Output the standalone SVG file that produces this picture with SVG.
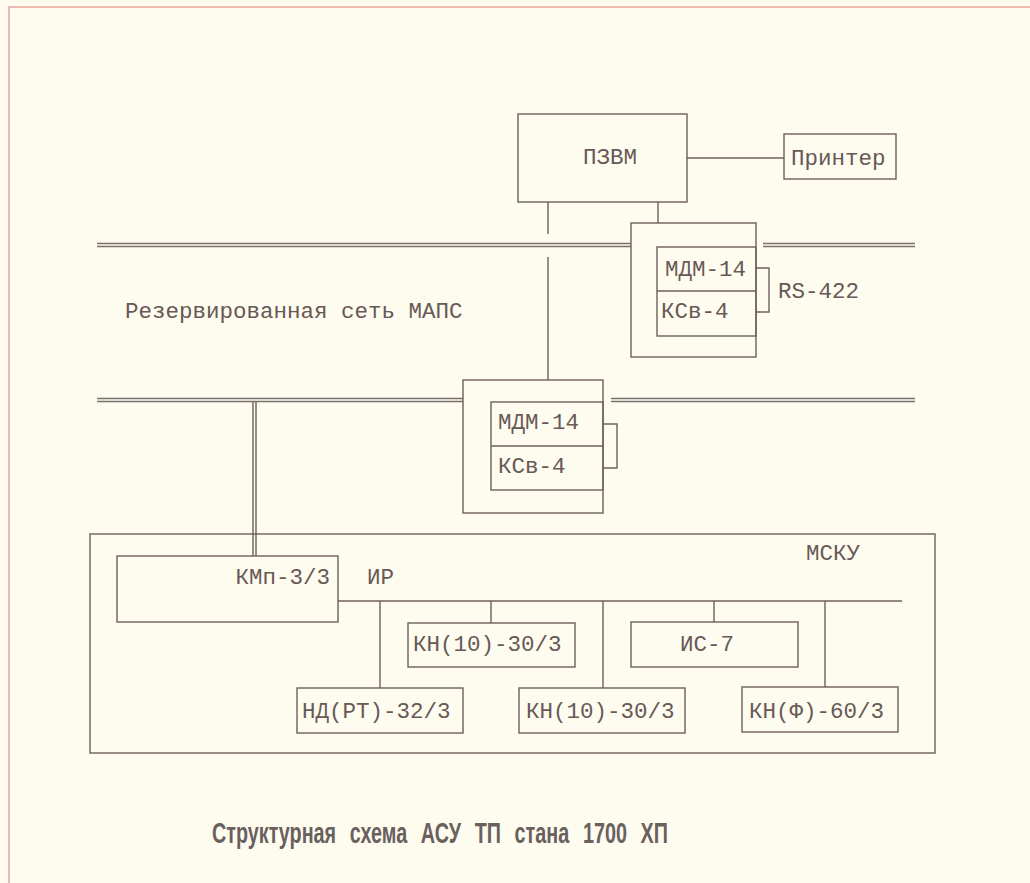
<svg xmlns="http://www.w3.org/2000/svg" width="1030" height="883" viewBox="0 0 1030 883">
<style>
.bx{fill:none;stroke:#6e605c;stroke-width:1.4}
.ln{fill:none;stroke:#6e605c;stroke-width:1.4}
.bus{fill:none;stroke:#7a6e6e;stroke-width:1.5}
.t{font-family:"Liberation Mono","DejaVu Sans Mono",monospace;font-size:22.5px;fill:#685856}
.title{font-family:"Liberation Sans",Arial,sans-serif;font-weight:bold;font-size:29px;fill:#6a605e;word-spacing:12px}
</style>
<rect x="0" y="0" width="1030" height="883" fill="#fdfcef"/>
<path d="M1030,7 H9 V883" fill="none" stroke="#e8a8a0" stroke-width="1.6"/>
<g id="connectors">
<path class="bus" d="M97,243.5 H631 M97,246.5 H631 M763,243.5 H915 M763,246.5 H915"/>
<path class="bus" d="M97,398.5 H463 M97,401.5 H463 M611,398.5 H915 M611,401.5 H915"/>
<path class="ln" d="M687,158 H784"/>
<path class="ln" d="M548,202 V234 M548,257 V380"/>
<path class="ln" d="M658,202 V223"/>
<path class="ln" d="M756,268 H769 V312 H756"/>
<path class="ln" d="M603,424 H617 V468 H603"/>
<path class="ln" d="M253,402 V556 M256,402 V556"/>
<path class="ln" d="M338,601 H902"/>
<path class="ln" d="M380,601 V688 M491,601 V623 M603,601 V688 M714,601 V622 M825,601 V687"/>
</g>
<g id="pzvm"><rect class="bx" x="518" y="114" width="169" height="88"/><text class="t" x="583" y="164">ПЗВМ</text></g>
<g id="printer"><rect class="bx" x="784" y="134" width="112" height="45"/><text class="t" x="791" y="165">Принтер</text></g>
<g id="mdm-upper">
<rect class="bx" x="631" y="223" width="125" height="134"/>
<rect class="bx" x="657" y="247" width="99" height="89"/>
<path class="ln" d="M657,291 H756"/>
<text class="t" x="665" y="276">МДМ-14</text>
<text class="t" x="661" y="318">КСв-4</text>
</g>
<g id="rs422"><text class="t" x="778" y="298">RS-422</text></g>
<g id="network-label"><text class="t" x="125" y="318">Резервированная сеть МАПС</text></g>
<g id="mdm-lower">
<rect class="bx" x="463" y="380" width="140" height="133"/>
<rect class="bx" x="491" y="402" width="112" height="88"/>
<path class="ln" d="M491,446 H603"/>
<text class="t" x="498" y="429">МДМ-14</text>
<text class="t" x="498" y="473">КСв-4</text>
</g>
<g id="msku">
<rect class="bx" x="90" y="534" width="845" height="219"/>
<text class="t" x="806" y="560">МСКУ</text>
</g>
<g id="kmp"><rect class="bx" x="117" y="556" width="221" height="66"/><text class="t" x="330" y="584" text-anchor="end">КМп-3/3</text></g>
<g id="ir-label"><text class="t" x="367" y="584">ИР</text></g>
<g id="kn1"><rect class="bx" x="408" y="623" width="167" height="44"/><text class="t" x="413" y="651">КН(10)-30/3</text></g>
<g id="is7"><rect class="bx" x="631" y="622" width="167" height="45"/><text class="t" x="680" y="651">ИС-7</text></g>
<g id="nd"><rect class="bx" x="297" y="688" width="166" height="45"/><text class="t" x="302" y="718">НД(РТ)-32/3</text></g>
<g id="kn2"><rect class="bx" x="519" y="688" width="166" height="45"/><text class="t" x="526" y="718">КН(10)-30/3</text></g>
<g id="knf"><rect class="bx" x="742" y="687" width="156" height="45"/><text class="t" x="749" y="718">КН(Ф)-60/3</text></g>
<g id="title"><text class="title" x="212" y="843" textLength="456" lengthAdjust="spacingAndGlyphs">Структурная схема АСУ ТП стана 1700 ХП</text></g>
</svg>
